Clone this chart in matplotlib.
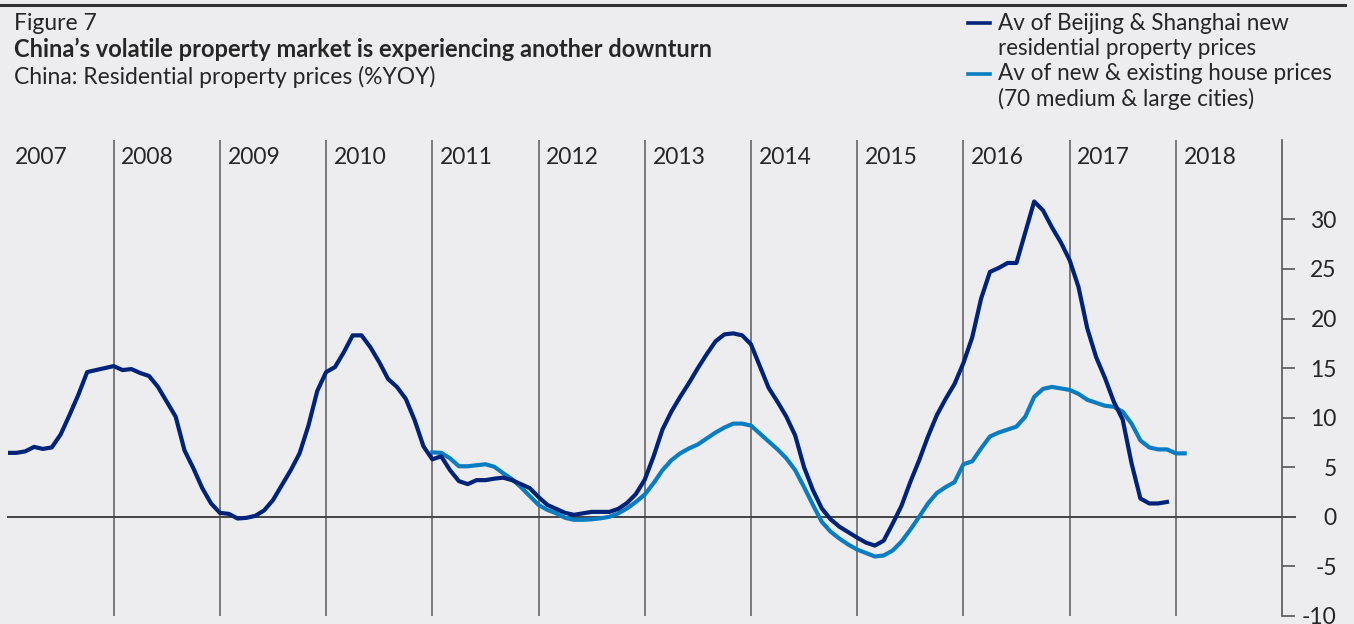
import numpy as np
import matplotlib
matplotlib.use("Agg")
import matplotlib.pyplot as plt
from matplotlib.lines import Line2D

# ---------------- data ----------------
start_dark = 2007.0          # Jan 2007, monthly
dark_vals = [
    6.45, 6.45, 6.6, 7.05, 6.85, 7.0, 8.3, 10.25, 12.3, 14.6, 14.8, 15.0,
    15.2, 14.8, 14.9, 14.5, 14.2, 13.1, 11.6, 10.1, 6.7, 4.9, 2.9, 1.35,
    0.4, 0.3, -0.17, -0.1, 0.1, 0.65, 1.7, 3.2, 4.7, 6.4, 9.2, 12.7,
    14.6, 15.1, 16.6, 18.3, 18.3, 17.1, 15.6, 13.9, 13.1, 11.9, 9.75, 7.1,
    5.8, 6.1, 4.7, 3.6, 3.3, 3.7, 3.7, 3.85, 3.95, 3.7, 3.3, 2.9,
    2.0, 1.2, 0.8, 0.4, 0.2, 0.35, 0.5, 0.5, 0.5, 0.8, 1.4, 2.3,
    3.75, 6.1, 8.8, 10.6, 12.1, 13.5, 15.0, 16.4, 17.7, 18.4, 18.5, 18.3,
    17.4, 15.2, 13.0, 11.6, 10.1, 8.2, 5.0, 2.7, 0.85, -0.25, -1.0, -1.55,
    -2.1, -2.6, -2.9, -2.4, -0.7, 1.1, 3.5, 5.7, 8.1, 10.25, 11.9, 13.4,
    15.5, 18.1, 22.0, 24.7, 25.1, 25.6, 25.6, 28.7, 31.8, 30.9, 29.2, 27.7,
    25.9, 23.2, 19.0, 16.1, 14.0, 11.6, 9.8, 5.4, 1.85, 1.35, 1.35, 1.5,
]
start_light = 2011.0         # Jan 2011, monthly
light_vals = [
    6.5, 6.45, 5.9, 5.1, 5.1, 5.2, 5.3, 5.05, 4.4, 3.8, 3.0, 2.1,
    1.2, 0.7, 0.35, -0.1, -0.3, -0.3, -0.25, -0.15, 0.0, 0.35, 0.85, 1.5,
    2.25, 3.4, 4.7, 5.7, 6.4, 6.9, 7.3, 7.9, 8.5, 9.0, 9.4, 9.4,
    9.2, 8.4, 7.6, 6.8, 5.9, 4.7, 3.0, 1.2, -0.5, -1.5, -2.2, -2.8,
    -3.3, -3.65, -4.0, -3.9, -3.4, -2.5, -1.3, 0.0, 1.35, 2.4, 3.0, 3.5,
    5.3, 5.6, 6.9, 8.1, 8.5, 8.8, 9.1, 10.1, 12.1, 12.9, 13.1, 12.95,
    12.8, 12.4, 11.8, 11.5, 11.2, 11.1, 10.6, 9.4, 7.7, 7.0, 6.8, 6.8,
    6.4, 6.4,
]
years = list(range(2007, 2019))
y_ticks = [-10, -5, 0, 5, 10, 15, 20, 25, 30]
dark_label = ["Av of Beijing & Shanghai new", "residential property prices"]
light_label = ["Av of new & existing house prices", "(70 medium & large cities)"]
fig_label = "Figure 7"
title = "China\u2019s volatile property market is experiencing another downturn"
subtitle = "China: Residential property prices (%YOY)"

# ---------------- style ----------------
BG = "#EDEDEF"
DARK = "#00237A"
LIGHT = "#0A7DC2"
TXT = "#262626"
GRID = "#707070"
plt.rcParams["font.family"] = ["Lato", "DejaVu Sans"]

W, H = 1354, 624
fig = plt.figure(figsize=(W / 100, H / 100), dpi=100)
fig.patch.set_facecolor(BG)
renderer = fig.canvas.get_renderer()


def fx(px):
    return px / W


def fy(py):
    return 1 - py / H


left, right, top, bottom = 7.5, 1282, 140, 616
ax = fig.add_axes([fx(left), fy(bottom), (right - left) / W, (bottom - top) / H])
ax.set_facecolor(BG)
ax.set_xlim(2007, 2019)
ax.set_ylim(-10, 38)

for s in ["top", "left", "bottom"]:
    ax.spines[s].set_visible(False)
ax.spines["right"].set_color("#555555")
ax.spines["right"].set_linewidth(1.2)
ax.set_xticks([])
ax.yaxis.tick_right()
ax.set_yticks(y_ticks)
ax.set_yticklabels([str(v) for v in y_ticks])
ax.tick_params(axis="y", direction="out", length=9.5, width=1.2, color="#555555",
               labelsize=16.5, labelcolor=TXT, pad=30)
for lab in ax.get_yticklabels():
    lab.set_horizontalalignment("right")

for yr in years[1:]:
    ax.axvline(yr, color=GRID, lw=1.3, zorder=1)
ax.axhline(0, xmin=0, xmax=1.0102, color="#444444", lw=1.4, zorder=1, clip_on=False)

for yr in years:
    ax.text(yr + 0.072, 36.25, str(yr), ha="left", va="center", fontsize=16.5, color=TXT)

x_dark = start_dark + np.arange(len(dark_vals)) / 12
x_light = start_light + np.arange(len(light_vals)) / 12
ax.plot(x_light, light_vals, color=LIGHT, lw=3.0, zorder=3)
ax.plot(x_dark, dark_vals, color=DARK, lw=3.0, zorder=4)

# top rule
fig.add_artist(Line2D([0, fx(1345)], [fy(5), fy(5)], color="#333333", lw=2.2))


def fit(t, width_px):
    bb = t.get_window_extent(renderer)
    t.set_fontsize(t.get_fontsize() * width_px / bb.width)


# titles
t1 = fig.text(fx(14), fy(30), fig_label, fontsize=14, color=TXT, va="baseline")
t2 = fig.text(fx(14), fy(57), title, fontsize=14, color=TXT, weight="bold", va="baseline")
t3 = fig.text(fx(14), fy(84), subtitle, fontsize=14, color=TXT, va="baseline")
fit(t3, 423)
t1.set_fontsize(t3.get_fontsize())
fit(t2, 702)

# legend (manual)
leg_texts = []
base = [29.5, 55, 80.5, 106]
lines_txt = dark_label + light_label
for b, s in zip(base, lines_txt):
    leg_texts.append(fig.text(fx(998), fy(b), s, fontsize=15, color=TXT, va="baseline"))
fit(leg_texts[2], 335)
for t in leg_texts:
    t.set_fontsize(leg_texts[2].get_fontsize())
fig.add_artist(Line2D([fx(968), fx(990)], [fy(22.5), fy(22.5)], color=DARK, lw=2.6))
fig.add_artist(Line2D([fx(968), fx(990)], [fy(74), fy(74)], color=LIGHT, lw=2.6))

fig.savefig("out.png", dpi=100, facecolor=fig.get_facecolor())
